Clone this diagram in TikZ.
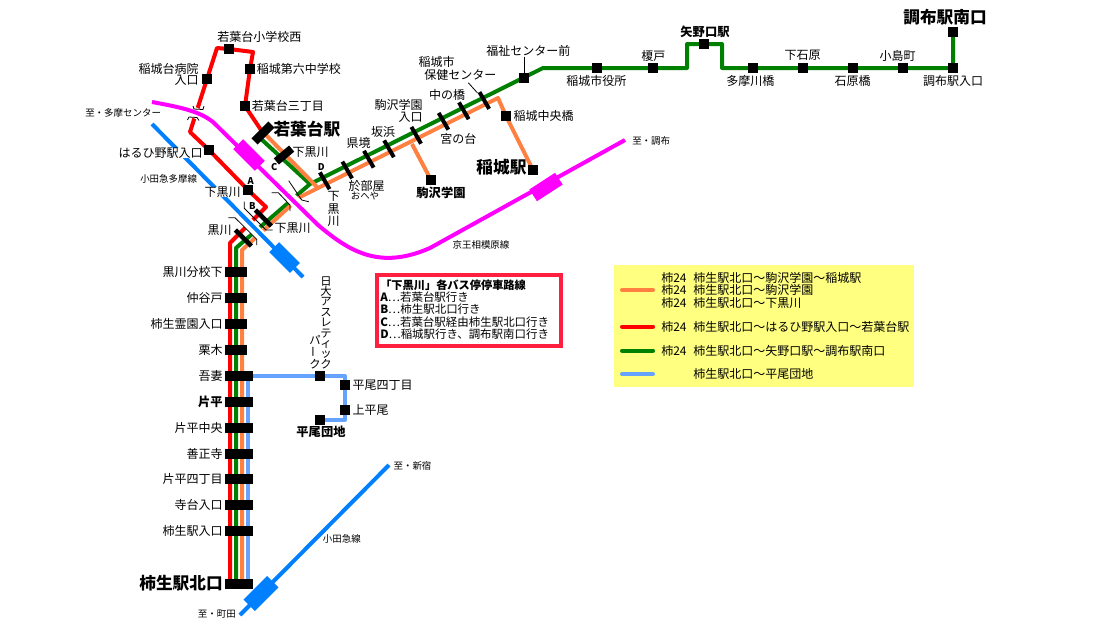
\documentclass[tikz,border=0pt]{standalone}
\usepackage{fontspec}
\usepackage{graphicx}
\usetikzlibrary{backgrounds}
\setmainfont{Noto Sans CJK JP}
\definecolor{busorange}{HTML}{FF8040}
\definecolor{busgreen}{HTML}{008000}
\definecolor{busblue}{HTML}{66A3FF}
\definecolor{keio}{HTML}{FF00FF}
\definecolor{odakyu}{HTML}{0080FF}
\definecolor{framered}{HTML}{FF2040}
\definecolor{legendyellow}{HTML}{FFFF80}
\tikzset{
  lab/.style={inner sep=0pt, font=\fontsize{9}{10}\selectfont},
  tiny lab/.style={inner sep=0pt, font=\fontsize{7.1}{8}\selectfont},
  big lab/.style={inner sep=0pt, font=\fontsize{12.5}{14}\selectfont\bfseries},
  bold lab/.style={inner sep=0pt, font=\fontsize{9.2}{10}\selectfont\bfseries},
  mark lab/.style={inner sep=0pt, font=\fontsize{7}{8}\selectfont\bfseries},
  stack lab/.style={inner sep=0pt, align=center, font=\fontsize{9}{9.6}\selectfont},
  tall lab/.style={inner sep=0pt, align=center, font=\fontsize{8.5}{7.8}\selectfont},
  box lab/.style={inner sep=0pt, anchor=west, font=\fontsize{8.6}{9}\selectfont},
  busstop/.style={fill=black, inner sep=0pt, minimum size=7.5pt},
  trunk/.style={fill=black, inner sep=0pt, minimum width=16.5pt, minimum height=7.5pt},
  trunk wide/.style={fill=black, inner sep=0pt, minimum width=21pt, minimum height=7.5pt},
  bar/.style={fill=black, inner sep=0pt, minimum width=14.5pt, minimum height=3pt, rotate=-60},
  bar cross/.style={fill=black, inner sep=0pt, minimum width=17pt, minimum height=3.4pt, rotate=-45},
  bus/.style={line width=3pt, line join=round},
  rail/.style={line width=3pt},
  gap/.style={line width=8pt, white},
  bracket/.style={line width=0.6pt},
  legend/.style={line width=3pt, line cap=round}
}
\begin{document}
\begin{tikzpicture}[x=0.75pt, y=-0.75pt]
\useasboundingbox (0,0) rectangle (1099,625);
% route corners
\coordinate (r0) at (230,584);
\coordinate (r1) at (230,243);
\coordinate (r2) at (266,207);
\coordinate (r3) at (190,132);
\coordinate (r4) at (217,48);
\coordinate (r5) at (253,52);
\coordinate (g0) at (236,584);
\coordinate (g1) at (236,248);
\coordinate (g2) at (310,184);
\coordinate (g3) at (543,68);
\coordinate (g4) at (687,68);
\coordinate (g5) at (687,44);
\coordinate (g6) at (722,44);
\coordinate (g7) at (722,68);
\coordinate (g8) at (260,138);
\coordinate (o0) at (242,584);
\coordinate (o1) at (242,250);
\coordinate (o2) at (498,98);
\coordinate (o3) at (317,187);
\coordinate (o4) at (412,144);
\coordinate (o5) at (300,197);
\coordinate (o6) at (266,135);
\coordinate (b0) at (248,584);
\coordinate (b1) at (248,376);
\coordinate (b2) at (345,376);
\coordinate (b3) at (345,420);
% stops
\node[trunk] (kurobun) at (236,272) {};
\node[trunk] (nakayato) at (236,298) {};
\node[trunk] (reien) at (236,324) {};
\node[trunk] (kuriki) at (236,350) {};
\node[trunk wide] (azuma) at (239,376) {};
\node[trunk wide] (katahira) at (239,402) {};
\node[trunk wide] (kchuo) at (239,428) {};
\node[trunk wide] (zensho) at (239,454) {};
\node[trunk wide] (kyon) at (239,479) {};
\node[trunk wide] (teradai) at (239,505) {};
\node[trunk wide] (kakiiri) at (239,531) {};
\node[trunk wide] (kakio) at (239,584) {};
\node[busstop] (shimoA) at (248,190) {};
\node[busstop] (haruhino) at (209,150) {};
\node[busstop] (byoin) at (207,79) {};
\node[busstop] (shogaku) at (229,49) {};
\node[busstop] (dairoku) at (250,69) {};
\node[busstop] (sanchome) at (245,106) {};
\node[busstop] (fukushi) at (524,78) {};
\node[busstop] (yakuba) at (597,68) {};
\node[busstop] (enokido) at (653,68) {};
\node[busstop] (yanokuchi) at (704,44) {};
\node[busstop] (tamagawa) at (753,68) {};
\node[busstop] (shimoishi) at (803,68) {};
\node[busstop] (ishihara) at (853,68) {};
\node[busstop] (kojima) at (903,68) {};
\node[busstop] (chofuiri) at (953,68) {};
\node[busstop] (chofu) at (953,32) {};
\node[busstop] (chuobashi) at (506,116) {};
\node[busstop] (inagi) at (533,170) {};
\node[busstop] (komazawa) at (431,180) {};
\node[busstop] (nichidai) at (320,376) {};
\node[busstop] (hirayon) at (345,385) {};
\node[busstop] (kamihira) at (345,410) {};
\node[busstop] (hirao) at (320,420) {};
\node[fill=black, inner sep=0pt, minimum width=18pt, minimum height=6.5pt, rotate=45] (wakaba) at (263,133) {};
% bus routes
\begin{scope}[on background layer]
\draw[bus, busgreen] (g0) -- (g1) -- (g2) -- (g3) -- (g4) -- (g5) -- (g6) -- (g7) -- (chofuiri.center) -- (chofu.center);
\draw[bus, busgreen] (g8) -- (g2);
\draw[bus, red] (r0) -- (r1) -- (r2) -- (shimoA.center) -- (haruhino.center) -- (r3) -- (byoin.center) -- (r4) -- (shogaku.center) -- (r5) -- (dairoku.center) -- (sanchome.center) -- (wakaba.center);
\draw[bus, busorange] (o0) -- (o1) -- (o5) -- (o2) -- (chuobashi.center) -- (inagi.center);
\draw[bus, busorange] (o6) -- (o3);
\draw[bus, busorange] (o4) -- (komazawa.center);
\draw[bus, busblue] (b0) -- (b1) -- (b2) -- (b3) -- (hirao.center);
% bridges
\coordinate (m1) at (185,108);
\coordinate (m2) at (210,120);
\coordinate (m3) at (277,184);
\coordinate (m4) at (303,210);
\coordinate (t1) at (233,208);
\coordinate (t2) at (263,238);
\draw[gap] (m1) -- (m2);
\draw[gap] (m3) -- (m4);
\draw[gap] (t1) -- (t2);
\end{scope}
% railways
\coordinate (kw) at (152,102);
\coordinate (k1) at (213,122);
\coordinate (k2) at (318,225);
\coordinate (k3) at (430,248);
\coordinate (ke) at (625,140);
\draw[rail, keio] (kw) .. controls (185,108) and (200,112) .. (k1) -- (k2) .. controls (350,252) and (380,270) .. (k3) -- (ke);
\node[fill=keio, inner sep=0pt, minimum width=23pt, minimum height=10.5pt, rotate=-45] (keiowaka) at (249,155) {};
\node[fill=keio, inner sep=0pt, minimum width=23pt, minimum height=10.5pt, rotate=33] (keioinagi) at (546,187) {};
\coordinate (tn) at (152,124);
\coordinate (ts) at (303,277);
\coordinate (on) at (389,465);
\coordinate (os) at (240,615);
\draw[rail, odakyu] (tn) -- (ts);
\draw[rail, odakyu] (on) -- (os);
\node[fill=odakyu, inner sep=0pt, minimum width=22pt, minimum height=10.5pt, rotate=-45] (odakurokawa) at (284.5,257.5) {};
\node[fill=odakyu, inner sep=0pt, minimum width=25pt, minimum height=12pt, rotate=45] (odakakio) at (261,593.5) {};
% bridge marks
\draw[bracket] (193,106) -- (194,109) -- (203,109.5) -- (204,106);
\draw[bracket] (187.5,120) -- (189,117) -- (197,117.5) -- (199,120.5);
\draw[bracket] (288.7,180.7) -- (301.7,200) -- (308.7,201.7);
\draw[bracket] (271.7,192.7) -- (278.3,192.7) -- (290,205) -- (290,211);
\draw[bracket] (244.3,201.7) -- (244.3,208.3) -- (266,230) -- (272.7,230);
\draw[bracket] (228.3,217.7) -- (235,217.7) -- (256.7,239.3) -- (256.7,245);
% bars across the lines
\node[bar] (barD) at (324.7,180.8) {};
\node[bar] (barOheya) at (347.2,170) {};
\node[bar] (barKen) at (368.8,159.2) {};
\node[bar] (barSaka) at (389,148.8) {};
\node[bar] (barIriguchi) at (416.2,135.3) {};
\node[bar] (barMiya) at (443.5,121.3) {};
\node[bar] (barNaka) at (463.8,110.8) {};
\node[bar] (barHoken) at (484.3,100.5) {};
\node[bar cross] (barB) at (263.3,218) {};
\node[bar cross] (barKuro) at (243.3,238) {};
\node[fill=black, inner sep=0pt, minimum width=15pt, minimum height=6pt, rotate=40] (barC) at (284,155) {};
% labels
\node[lab, anchor=west] (lShogaku) at (217,36.5) {若葉台小学校西};
\node[lab, anchor=west] (lDairoku) at (256.7,69) {稲城第六中学校};
\node[lab, anchor=east] (lByoin) at (199,69.3) {稲城台病院};
\node[lab, anchor=east] (lByoin2) at (199,80.7) {入口};
\node[lab, anchor=west] (lSanchome) at (251.7,105.7) {若葉台三丁目};
\node[big lab, anchor=west] (lWakaba) at (273.3,129) {若葉台駅};
\node[tiny lab, anchor=west] (lTama) at (85,113) {至・多摩センター};
\node[lab, anchor=east, fill=white] (lHaruhino) at (203,153) {はるひ野駅入口};
\node[tiny lab, anchor=west] (lOdaTama) at (140,179) {小田急多摩線};
\node[lab, anchor=east, fill=white] (lShimoA) at (241,192) {下黒川};
\node[mark lab] (lA) at (250.7,180.7) {A};
\node[lab, anchor=west] (lShimoC) at (292.3,152) {下黒川};
\node[mark lab] (lC) at (274.3,166.7) {C};
\node[mark lab] (lD) at (321.3,167.3) {D};
\node[mark lab] (lB) at (252.3,205.7) {B};
\node[lab, anchor=west] (lShimoB) at (274.3,228.3) {下黒川};
\node[lab, anchor=east] (lKuro) at (232,230) {黒川};
\node[lab, anchor=east] (lKurobun) at (223,272) {黒川分校下};
\node[lab, anchor=east] (lNakayato) at (223,298) {仲谷戸};
\node[lab, anchor=east] (lReien) at (223,324) {柿生霊園入口};
\node[lab, anchor=east] (lKuriki) at (223,350) {栗木};
\node[lab, anchor=east] (lAzuma) at (223,376) {吾妻};
\node[bold lab, anchor=east] (lKatahira) at (223,402) {片平};
\node[lab, anchor=east] (lKchuo) at (223,428) {片平中央};
\node[lab, anchor=east] (lZensho) at (223,454) {善正寺};
\node[lab, anchor=east] (lKyon) at (223,479) {片平四丁目};
\node[lab, anchor=east] (lTeradai) at (223,505) {寺台入口};
\node[lab, anchor=east] (lKakiiri) at (223,531) {柿生駅入口};
\node[big lab, anchor=east] (lKakio) at (223,583) {柿生駅北口};
\node[lab] (lKen) at (358.7,143.3) {県境};
\node[lab] (lSaka) at (383,132.3) {坂浜};
\node[lab, anchor=east] (lKoma) at (423,105) {駒沢学園};
\node[lab, anchor=east] (lKoma2) at (423,117.3) {入口};
\node[lab] (lNaka) at (447,95) {中の橋};
\node[lab] (lHoken) at (436.7,62.3) {稲城市};
\node[lab] (lHoken2) at (460.3,75) {保健センター};
\node[lab] (lFukushi) at (528.3,50.7) {福祉センター前};
\node[lab] (lYakuba) at (596.3,80.7) {稲城市役所};
\node[lab] (lEnokido) at (653.3,56) {榎戸};
\node[bold lab] (lYanokuchi) at (705,32.3) {矢野口駅};
\node[lab] (lTamagawa) at (750.3,80.7) {多摩川橋};
\node[lab] (lShimoishi) at (802.5,55) {下石原};
\node[lab] (lIshihara) at (852.5,80.7) {石原橋};
\node[lab] (lKojima) at (897.5,55.7) {小島町};
\node[lab] (lChofuiri) at (953,80.7) {調布駅入口};
\node[big lab] (lChofu) at (945,17.3) {調布駅南口};
\node[lab, anchor=west] (lChuobashi) at (513.3,115.7) {稲城中央橋};
\node[big lab, anchor=east] (lInagi) at (526.7,167.3) {稲城駅};
\node[bold lab] (lKomazawa) at (441,192.7) {駒沢学園};
\node[lab] (lMiya) at (458.3,139) {宮の台};
\node[lab] (lOheya) at (366.7,185.7) {於部屋};
\node[tiny lab] (lOheya2) at (365,195.7) {おへや};
\node[stack lab] (lShimoD) at (333.5,209) {下\\黒\\川};
\node[tiny lab] (lSagami) at (481,245) {京王相模原線};
\node[tiny lab, anchor=west] (lChofuTo) at (632,141) {至・調布};
\node[tiny lab, anchor=west] (lShinjuku) at (393.3,465.7) {至・新宿};
\node[tiny lab, anchor=west] (lOda) at (322.7,539.3) {小田急線};
\node[tiny lab, anchor=east] (lMachida) at (236,614) {至・町田};
\node[tall lab, anchor=south] (lNichi) at (326,369) {日\\大\\ア\\ス\\レ\\テ\\ィ\\ッ\\ク};
\node[tall lab, anchor=south] (lNichi2) at (315,369) {パ\\\rotatebox[origin=c]{90}{ー}\\ク};
\node[lab, anchor=west] (lHirayon) at (352.3,385.3) {平尾四丁目};
\node[lab, anchor=west] (lKamihira) at (352.3,410) {上平尾};
\node[bold lab] (lHirao) at (321,432.3) {平尾団地};
\draw[line width=0.6pt] (lFukushi.south -| fukushi) -- (fukushi);
\draw[line width=0.6pt] (lHoken2.south) ++(8,2) coordinate (lead) -- (barHoken);
% stops box
\node[draw=framered, line width=3pt, outer sep=0pt, fill=white, inner sep=0pt, minimum width=138pt, minimum height=53pt, anchor=north west] (routes) at (376.5,275) {};
\node[inner sep=0pt, anchor=west, font=\fontsize{8.4}{9}\selectfont\bfseries] (rT) at (380,285) {「下黒川」各バス停停車路線};
\node[box lab] (rA) at (380,297) {\textbf{A}…若葉台駅行き};
\node[box lab] (rB) at (380,309) {\textbf{B}…柿生駅北口行き};
\node[box lab] (rC) at (380,322) {\textbf{C}…若葉台駅経由柿生駅北口行き};
\node[box lab] (rD) at (380,334) {\textbf{D}…稲城駅行き、調布駅南口行き};
% legend
\node[fill=legendyellow, inner sep=0pt, minimum width=225.5pt, minimum height=91.3pt, anchor=north west] (legendbox) at (613.3,265) {};
\coordinate (p1) at (622,290);
\coordinate (q1) at (653,290);
\coordinate (p2) at (622,326.7);
\coordinate (q2) at (653,326.7);
\coordinate (p3) at (622,350.7);
\coordinate (q3) at (653,350.7);
\coordinate (p4) at (622,374);
\coordinate (q4) at (653,374);
\draw[legend, busorange] (p1) -- (q1);
\draw[legend, red] (p2) -- (q2);
\draw[legend, busgreen] (p3) -- (q3);
\draw[legend, busblue] (p4) -- (q4);
\node[lab, anchor=west] (n1) at (661,278) {柿24};
\node[lab, anchor=west] (n2) at (661,290) {柿24};
\node[lab, anchor=west] (n3) at (661,302.7) {柿24};
\node[lab, anchor=west] (n4) at (661,326.7) {柿24};
\node[lab, anchor=west] (n5) at (661,351) {柿24};
\node[lab, anchor=west] (d1) at (693,278) {柿生駅北口〜駒沢学園〜稲城駅};
\node[lab, anchor=west] (d2) at (693,290) {柿生駅北口〜駒沢学園};
\node[lab, anchor=west] (d3) at (693,302.7) {柿生駅北口〜下黒川};
\node[lab, anchor=west] (d4) at (693,326.7) {柿生駅北口〜はるひ野駅入口〜若葉台駅};
\node[lab, anchor=west] (d5) at (693,351) {柿生駅北口〜矢野口駅〜調布駅南口};
\node[lab, anchor=west] (d6) at (693,374) {柿生駅北口〜平尾団地};
\end{tikzpicture}
\end{document}
